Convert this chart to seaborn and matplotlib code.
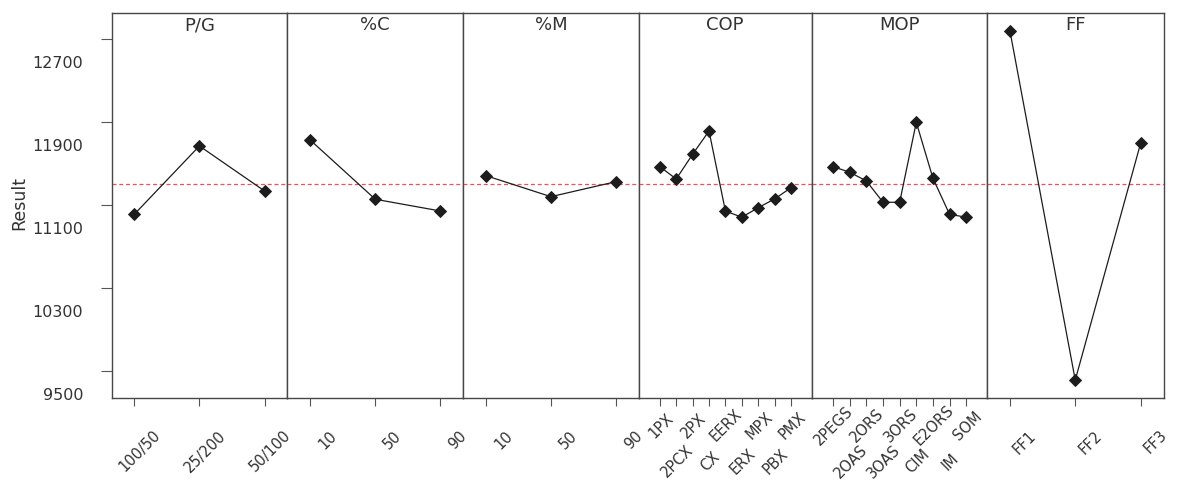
import numpy as np
import matplotlib
matplotlib.use("Agg")
import matplotlib.pyplot as plt
import matplotlib.transforms as mtransforms
import seaborn as sns

# ---- data (main-effects means) ----
factors = ["P/G", "%C", "%M", "COP", "MOP", "FF"]
pg_levels = ["100/50", "25/200", "50/100"]
pg_means = [11012, 11670, 11237]
c_levels = ["10", "50", "90"]
c_means = [11728, 11157, 11044]
m_levels = ["10", "50", "90"]
m_means = [11384, 11182, 11326]
cop_levels = ["1PX", "2PCX", "2PX", "CX", "EERX", "ERX", "MPX", "PBX", "PMX"]
cop_means = [11471, 11352, 11590, 11814, 11044, 10984, 11076, 11160, 11268]
mop_levels = ["2PEGS", "2OAS", "2ORS", "3OAS", "3ORS", "CIM", "E2ORS", "IM", "SOM"]
mop_means = [11471, 11417, 11333, 11128, 11128, 11898, 11359, 11012, 10984]
ff_levels = ["FF1", "FF2", "FF3"]
ff_means = [12780, 9417, 11696]
y_ticks = [9500, 10300, 11100, 11900, 12700]
y_label = "Result"

levels_all = [pg_levels, c_levels, m_levels, cop_levels, mop_levels, ff_levels]
means_all = [pg_means, c_means, m_means, cop_means, mop_means, ff_means]
grand_mean = np.mean([np.mean(m) for m in means_all])

# ---- style ----
sns.set_style("ticks")
plt.rcParams["font.family"] = ["DejaVu Sans"]
TXT = "#333333"
SPINE = "#474747"

W, H = 1180, 490
fig = plt.figure(figsize=(W / 100, H / 100), dpi=100)
widths = [175.8, 176, 175.2, 173, 175.5, 176.5]
gs = fig.add_gridspec(1, 6, left=111.5 / W, right=1163.5 / W,
                      top=1 - 13.3 / H, bottom=1 - 397.7 / H,
                      wspace=0, width_ratios=widths)
axes = [fig.add_subplot(gs[0, i]) for i in range(6)]

ylim = (9247, 12947)

for i, (ax, name, lv, mv) in enumerate(zip(axes, factors, levels_all, means_all)):
    n = len(lv)
    sns.pointplot(x=lv, y=mv, order=lv, color="#1c1c1c", markers="D",
                  markersize=6.4, linewidth=0.9, errorbar=None, ax=ax)
    ax.axhline(grand_mean, color="#f0505e", lw=0.9, ls=(0, (3.2, 2.2)), zorder=0)
    ax.set_ylim(*ylim)
    if n <= 3:
        ax.set_xlim(-0.35, n - 1 + 0.35)
    else:
        ax.set_xlim(-1.3, n - 1 + 1.25)
    ax.set_xlabel("")
    ax.set_ylabel("")
    for sp in ax.spines.values():
        sp.set_visible(True)
        sp.set_color(SPINE)
        sp.set_linewidth(1.0)
    ax.text(0.5, 1 - 12 / 384.4, name, transform=ax.transAxes, ha="center",
            va="center", fontsize=13, color=TXT)
    ax.set_xticks(range(n))
    ax.set_xticklabels(lv)
    ax.tick_params(axis="x", direction="out", length=6.1, width=0.8,
                   color="#555555", pad=0, labelsize=10.5, labelcolor=TXT)
    if i == 0:
        ax.set_yticks(y_ticks)
        ax.set_yticklabels([str(v) for v in y_ticks])
        ax.tick_params(axis="y", direction="out", length=7.9, width=0.8,
                       color="#555555", pad=12.6, labelsize=11.5, labelcolor=TXT)
        for lab in ax.get_yticklabels():
            lab.set_transform(lab.get_transform() +
                              mtransforms.ScaledTranslation(0, -23 / 100, fig.dpi_scale_trans))
        ax.set_ylabel(y_label, fontsize=12.5, color=TXT)
        ax.yaxis.set_label_coords(-0.472, 0.506)
    else:
        ax.set_yticks(y_ticks)
        ax.tick_params(axis="y", left=False, labelleft=False)

    for j, lab in enumerate(ax.get_xticklabels()):
        lab.set_rotation(45)
        lab.set_rotation_mode("anchor")
        lab.set_va("center")
        if n <= 3:
            lab.set_ha("right")
            dx, dy = 24, 27
        else:
            lab.set_ha("center")
            dx = 1
            dy = 19.5 if j % 2 == 0 else 55.5
        lab.set_transform(lab.get_transform() +
                          mtransforms.ScaledTranslation(dx / 100, -dy / 100, fig.dpi_scale_trans))

fig.savefig("out.png", dpi=100, facecolor="white")
